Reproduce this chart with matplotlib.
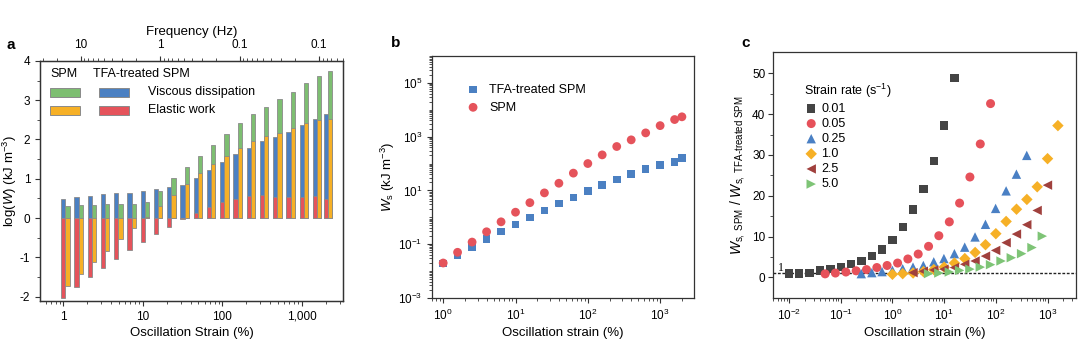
import matplotlib
matplotlib.use('Agg')
import matplotlib.pyplot as plt
from matplotlib.patches import Rectangle
from matplotlib.ticker import FixedLocator, LogLocator, NullFormatter, FixedFormatter

plt.rcParams['font.family'] = ['Liberation Sans', 'DejaVu Sans']
plt.rcParams['mathtext.fontset'] = 'custom'
plt.rcParams['mathtext.rm'] = 'Liberation Sans'
plt.rcParams['mathtext.it'] = 'Liberation Sans:italic'
plt.rcParams['mathtext.bf'] = 'Liberation Sans:bold'
plt.rcParams['axes.unicode_minus'] = False
plt.rcParams['font.size'] = 8.5

# ---------------- panel a data: log10 of work (kJ m^-3) ----------------
strain_a = [1, 1.47, 2.15, 3.16, 4.64, 6.81, 10, 14.7, 21.5, 31.6, 46.4,
            68.1, 100, 147, 215, 316, 464, 681, 1000, 1468, 2000]
tfa_viscous = [0.48, 0.53, 0.56, 0.60, 0.63, 0.65, 0.70, 0.74, 0.79, 0.83, 1.01,
               1.22, 1.42, 1.62, 1.79, 1.95, 2.05, 2.20, 2.36, 2.53, 2.65]
tfa_elastic = [-2.03, -1.76, -1.51, -1.26, -1.03, -0.81, -0.60, -0.41, -0.22, -0.03, 0.14,
               0.27, 0.40, 0.49, 0.55, 0.58, 0.53, 0.53, 0.53, 0.55, 0.49]
spm_viscous = [0.31, 0.34, 0.34, 0.35, 0.36, 0.37, 0.40, 0.70, 1.01, 1.30, 1.59,
               1.86, 2.13, 2.41, 2.64, 2.83, 3.02, 3.22, 3.43, 3.62, 3.73]
spm_elastic = [-1.73, -1.43, -1.13, -0.83, -0.54, -0.26, 0.02, 0.30, 0.59, 0.86, 1.14,
               1.38, 1.59, 1.79, 1.97, 2.08, 2.17, 2.29, 2.41, 2.50, 2.53]
freq_ticks = [10, 1, 0.1, 0.01]
freq_labels = ['10', '1', '0.1', '0.1']
freq_const = 16.5  # frequency (Hz) = freq_const / strain (%)

# ---------------- panel b data ----------------
strain_b = [1, 1.58, 2.51, 3.98, 6.31, 10, 15.8, 25.1, 39.8, 63.1, 100,
            158, 251, 398, 631, 1000, 1585, 2000]
ws_spm = [0.020, 0.050, 0.12, 0.29, 0.68, 1.55, 3.5, 8.1, 18.5, 44, 100,
          210, 430, 760, 1380, 2570, 4330, 5470]
ws_tfa = [0.019, 0.039, 0.080, 0.155, 0.30, 0.54, 0.98, 1.8, 3.3, 5.5, 9.4,
          15.8, 25.6, 40, 62, 89, 115, 163]

# ---------------- panel c data ----------------
rates = ['0.01', '0.05', '0.25', '1.0', '2.5', '5.0']
c_x = [
    [0.01, 0.0158, 0.0251, 0.0398, 0.0631, 0.1, 0.158, 0.251, 0.398, 0.631,
     1, 1.58, 2.51, 3.98, 6.31, 10, 15.8],
    [0.05, 0.079, 0.126, 0.199, 0.315, 0.5, 0.79, 1.26, 1.99, 3.15,
     5, 7.9, 12.6, 19.9, 31.5, 50, 79],
    [0.25, 0.40, 0.63, 1.0, 1.58, 2.5, 3.96, 6.3, 9.9, 15.8,
     25, 39.6, 63, 99, 158, 250, 396],
    [1, 1.58, 2.51, 3.98, 6.31, 10, 15.8, 25.1, 39.8, 63.1,
     100, 158, 251, 398, 631, 1000, 1585],
    [2.5, 3.96, 6.3, 9.9, 15.8, 25, 39.6, 63, 99, 158, 250, 396, 628, 995],
    [5, 7.9, 12.6, 19.9, 31.5, 50, 79, 126, 199, 315, 500, 792],
]
c_y = [
    [0.9, 0.95, 1.1, 1.7, 2.1, 2.6, 3.2, 4.0, 5.2, 6.8, 9.2, 12.3, 16.6, 21.7, 28.5, 37.2, 48.8],
    [0.85, 1.05, 1.3, 1.6, 1.9, 2.4, 2.9, 3.5, 4.5, 5.7, 7.6, 10.2, 13.6, 18.2, 24.6, 32.7, 42.6],
    [0.9, 1.15, 1.4, 1.7, 2.1, 2.5, 2.9, 3.8, 4.6, 5.8, 7.4, 9.9, 13.0, 16.9, 21.2, 25.3, 29.9],
    [0.74, 0.9, 1.06, 1.4, 1.9, 2.5, 3.5, 4.6, 6.1, 8.0, 10.7, 13.7, 16.7, 19.1, 22.2, 29.1, 37.2],
    [1.15, 1.5, 1.8, 2.0, 2.4, 3.2, 4.0, 5.2, 6.6, 8.5, 10.6, 12.9, 16.4, 22.6],
    [0.9, 1.05, 1.3, 1.7, 2.0, 2.5, 3.1, 4.0, 4.8, 5.8, 7.3, 10.1],
]
c_colors = ['#444444', '#e6515a', '#4a80c4', '#f6b026', '#a0403d', '#7ec476']
c_markers = ['s', 'o', '^', 'D', '<', '>']
c_sizes = [36, 42, 46, 34, 46, 46]

blue = '#4b80c2'
red = '#e5535b'
green = '#7dbe71'
orange = '#f6b026'
edge = '#8a8a8a'

fig = plt.figure(figsize=(10.8, 3.42), dpi=100)


def style_spines(ax):
    for s in ax.spines.values():
        s.set_color('#333333')
        s.set_linewidth(0.9)
    ax.tick_params(which='both', direction='out', color='#333333', labelsize=8.5)
    ax.tick_params(which='major', length=3.5, width=0.8)
    ax.tick_params(which='minor', length=2, width=0.6)


# ================= panel a =================
ax = fig.add_axes([0.037, 0.120, 0.2806, 0.702])
w = 0.052  # bar width in decades


def log_bars(ax, xs, heights, shift, color, zorder):
    lefts = [x * 10 ** (shift - w / 2) for x in xs]
    widths = [x * (10 ** (shift + w / 2) - 10 ** (shift - w / 2)) for x in xs]
    ax.bar(lefts, heights, width=widths, align='edge', color=color,
           edgecolor=edge, linewidth=0.6, zorder=zorder)


log_bars(ax, strain_a, tfa_viscous, 0.0, blue, 2)
log_bars(ax, strain_a, tfa_elastic, 0.0, red, 3)
log_bars(ax, strain_a, spm_viscous, 0.054, green, 2)
log_bars(ax, strain_a, spm_elastic, 0.054, orange, 3)

ax.set_xscale('log')
xmin_a, xmax_a = 0.51, 3300
ax.set_xlim(xmin_a, xmax_a)
ax.set_ylim(-2.11, 4.0)
ax.set_yticks([-2, -1, 0, 1, 2, 3, 4])
ax.set_xticks([1, 10, 100, 1000])
ax.set_xticklabels(['1', '10', '100', '1,000'])
ax.xaxis.set_minor_locator(LogLocator(base=10, subs=range(2, 10), numticks=20))
ax.xaxis.set_minor_formatter(NullFormatter())
ax.yaxis.set_minor_locator(FixedLocator([-1.5, -0.5, 0.5, 1.5, 2.5, 3.5]))
style_spines(ax)
ax.set_xlabel('Oscillation Strain (%)', fontsize=9.5, labelpad=3)
ax.set_ylabel(r'log($W$) (kJ m$^{-3}$)', fontsize=9.5)
ax.yaxis.set_label_coords(-0.068, 0.5)

ax2 = ax.twiny()
ax2.set_xscale('log')
ax2.set_xlim(freq_const / xmin_a, freq_const / xmax_a)
ax2.xaxis.set_major_locator(FixedLocator(freq_ticks))
ax2.xaxis.set_major_formatter(FixedFormatter(freq_labels))
ax2.xaxis.set_minor_locator(LogLocator(base=10, subs=range(2, 10), numticks=20))
ax2.xaxis.set_minor_formatter(NullFormatter())
style_spines(ax2)
ax2.set_xlabel('Frequency (Hz)', fontsize=9.5, labelpad=3)

# legend drawn by hand (two columns of swatches)
tr = ax.transAxes
ax.text(0.033, 0.945, 'SPM', transform=tr, fontsize=9, va='center')
ax.text(0.175, 0.945, 'TFA-treated SPM', transform=tr, fontsize=9, va='center')
for (x0, y0, col) in [(0.033, 0.85, green), (0.195, 0.85, blue),
                      (0.033, 0.775, orange), (0.195, 0.775, red)]:
    ax.add_patch(Rectangle((x0, y0), 0.10, 0.038, transform=tr, facecolor=col,
                           edgecolor=edge, linewidth=0.7, zorder=5))
ax.text(0.356, 0.871, 'Viscous dissipation', transform=tr, fontsize=9, va='center')
ax.text(0.356, 0.796, 'Elastic work', transform=tr, fontsize=9, va='center')
fig.text(0.006, 0.868, 'a', fontsize=11, fontweight='bold', va='center')

# ================= panel b =================
bx = fig.add_axes([0.4, 0.1287, 0.2426, 0.7076])
bx.scatter(strain_b, ws_tfa, marker='s', s=30, color=blue, edgecolor='none',
           label='TFA-treated SPM', zorder=3)
bx.scatter(strain_b, ws_spm, marker='o', s=40, color=red, edgecolor='none',
           label='SPM', zorder=3)
bx.set_xscale('log')
bx.set_yscale('log')
bx.set_xlim(0.70, 2940)
bx.set_ylim(1e-3, 1e6)
bx.yaxis.set_major_locator(FixedLocator([1e-3, 1e-1, 1e1, 1e3, 1e5]))
bx.yaxis.set_minor_locator(LogLocator(base=10, subs=range(1, 10), numticks=30))
bx.yaxis.set_minor_formatter(NullFormatter())
bx.xaxis.set_minor_locator(LogLocator(base=10, subs=range(2, 10), numticks=30))
bx.xaxis.set_minor_formatter(NullFormatter())
style_spines(bx)
bx.set_xlabel('Oscillation strain (%)', fontsize=9.5, labelpad=3)
bx.set_ylabel(r'$W_{\mathrm{s}}$ (kJ m$^{-3}$)', fontsize=9.5)
bx.yaxis.set_label_coords(-0.135, 0.5)
bx.legend(loc='upper left', bbox_to_anchor=(0.09, 0.905), frameon=False,
          fontsize=9, handletextpad=0.3, borderaxespad=0, labelspacing=0.45)
fig.text(0.362, 0.874, 'b', fontsize=11, fontweight='bold', va='center')

# ================= panel c =================
cx = fig.add_axes([0.7157, 0.1295, 0.2806, 0.719])
for xs, ys, col, mk, sz, lab in zip(c_x, c_y, c_colors, c_markers, c_sizes, rates):
    cx.scatter(xs, ys, marker=mk, s=sz, color=col, edgecolor='none', label=lab, zorder=3)
cx.axhline(1, color='#222222', linestyle=(0, (2, 1.2)), linewidth=1.0, zorder=2)
cx.text(0.018, 1.6, '1', transform=cx.get_yaxis_transform(), fontsize=8.5, family='Liberation Serif')
cx.set_xscale('log')
cx.set_xlim(10 ** -2.31, 10 ** 3.55)
cx.set_ylim(-5, 55.3)
cx.set_yticks([0, 10, 20, 30, 40, 50])
cx.yaxis.set_minor_locator(FixedLocator([5, 15, 25, 35, 45]))
cx.xaxis.set_major_locator(FixedLocator([1e-2, 1e-1, 1e0, 1e1, 1e2, 1e3]))
cx.xaxis.set_minor_locator(LogLocator(base=10, subs=range(2, 10), numticks=30))
cx.xaxis.set_minor_formatter(NullFormatter())
style_spines(cx)
cx.tick_params(axis='y', pad=2)
cx.set_xlabel('Oscillation strain (%)', fontsize=9.5, labelpad=3)
cx.set_ylabel(r'$W_{\mathrm{s,\ SPM}}\ /\ W_{\mathrm{s,}\ \text{TFA-treated SPM}}$', fontsize=10)
cx.yaxis.set_label_coords(-0.085, 0.5)
leg = cx.legend(loc='upper left', bbox_to_anchor=(0.085, 0.9), frameon=False,
                fontsize=9, title=r'Strain rate (s$^{-1}$)', title_fontsize=9,
                handletextpad=0.2, borderaxespad=0, labelspacing=0.25,
                alignment='left', handlelength=1.2)
fig.text(0.686, 0.874, 'c', fontsize=11, fontweight='bold', va='center')

fig.savefig('out.png', dpi=100)
